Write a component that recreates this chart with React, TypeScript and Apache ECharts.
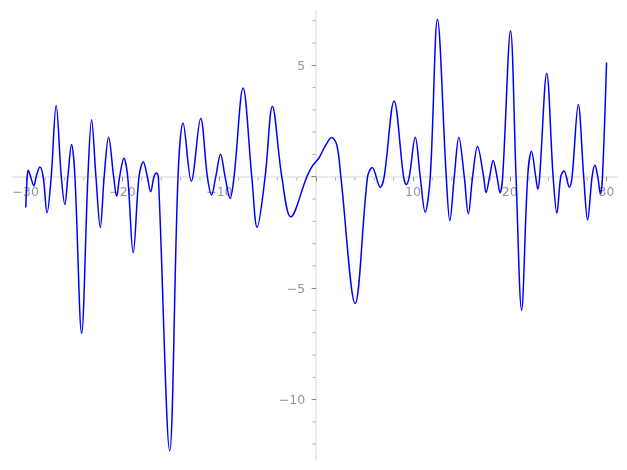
import React, { useEffect, useRef } from "react";
import * as echarts from "echarts";

// curve samples: [x, y]
const curveX: number[] = [
  -30.0, -29.85, -29.75, -29.5, -29.16, -28.92, -28.54, -28.2, -27.8, -27.37,
  -26.86, -26.33, -25.96, -25.65, -25.27, -24.92, -24.23, -23.58, -23.2, -22.75,
  -22.3, -21.9, -21.44, -20.92, -20.61, -20.3, -19.86, -19.47, -18.9, -18.3,
  -17.86, -17.44, -17.1, -16.75, -16.5, -16.3, -15.13, -14.27, -13.75, -12.9,
  -11.93, -11.24, -10.8, -10.37, -9.88, -9.41, -8.89, -8.48, -7.55, -6.65,
  -6.1, -5.27, -4.52, -3.55, -2.62, -0.96, -0.45, 0.3, 0.93, 1.6,
  2.14, 2.55, 4.03, 5.31, 5.79, 6.63, 7.03, 8.05, 9.03, 9.31,
  9.62, 10.24, 10.75, 11.26, 11.79, 12.53, 13.44, 13.81, 14.27, 14.74,
  15.3, 15.72, 16.16, 16.67, 17.3, 17.55, 17.92, 18.29, 18.68, 19.0,
  19.27, 20.08, 20.65, 21.22, 21.85, 22.25, 22.68, 22.9, 23.09, 23.82,
  24.48, 24.87, 25.27, 25.61, 26.16, 26.44, 27.08, 27.64, 28.04, 28.51,
  28.8, 29.09, 29.37, 29.58, 30.0,
];
const curveY: number[] = [
  -1.38, 0, 0.29, 0, -0.41, 0, 0.44, 0, -1.62, 0,
  3.19, 0, -1.25, 0, 1.44, 0, -7.03, 0, 2.55, 0,
  -2.28, 0, 1.77, 0, -0.88, 0, 0.83, 0, -3.41, 0,
  0.67, 0, -0.68, 0, 0.17, 0, -12.3, 0, 2.41, -0.2,
  2.61, 0, -0.82, 0, 1.01, 0, -0.98, 0, 3.98, 0,
  -2.27, 0, 3.16, 0, -1.8, 0, 0.44, 0.85, 1.37, 1.76,
  1.41, 0, -5.69, 0, 0.41, -0.47, 0, 3.4, 0, -0.35,
  0, 1.77, 0, -1.59, 0, 7.06, 0, -1.98, 0, 1.77,
  0, -1.67, 0, 1.36, 0, -0.72, 0, 0.73, 0, -0.72,
  0, 6.55, 0, -5.99, 0, 1.14, 0, -0.56, 0, 4.63,
  0, -1.63, 0, 0.26, -0.47, 0, 3.24, 0, -1.94, 0,
  0.51, 0, -0.77, 0, 5.12,
];

const xMajorTicks: number[] = [-30, -20, -10, 0, 10, 20, 30];
const xLabels: number[] = [-30, -20, -10, 10, 20, 30];
const xMinorTicks: number[] = [-28, -26, -24, -22, -18, -16, -14, -12, -8, -6, -4, -2, 2, 4, 6, 8, 12, 14, 16, 18, 22, 24, 26, 28];
const yMajorTicks: number[] = [-10, -5, 0, 5];
const yLabels: number[] = [-10, -5, 5];
const yMinorTicks: number[] = [-12, -11, -9, -8, -7, -6, -4, -3, -2, -1, 1, 2, 3, 4, 6, 7];

const X_MIN = -31.4;
const X_MAX = 31.1;
const Y_MIN = -12.68;
const Y_MAX = 7.48;

const fmt = (v: number) => (v < 0 ? "\u2212" + Math.abs(v) : String(v));

export default function App() {
  const ref = useRef<HTMLDivElement>(null);
  useEffect(() => {
    if (!ref.current) return;
    const chart = echarts.init(ref.current, undefined, { renderer: "svg" });
    const lineStyle = { color: "#e3e3e3", width: 1.5 };
    const labelStyle = {
      color: "#7a7a7a",
      fontFamily: "DejaVu Sans",
      fontSize: 12.5,
      textBorderWidth: 0,
      textShadowBlur: 0,
    };
    const data = curveX.map((x, i) => [x, curveY[i]]);
    chart.setOption({
      animation: false,
      grid: { left: 12.2, width: 605, top: 10, height: 449.3, outerBoundsMode: "none", containLabel: false },
      xAxis: {
        type: "value",
        min: X_MIN,
        max: X_MAX,
        axisLine: { show: true, onZero: true, lineStyle },
        axisTick: { show: true, length: 4.5, customValues: xMajorTicks, lineStyle: { color: "#888", width: 1 } },
        axisLabel: { show: false },
        splitLine: { show: false },
      },
      yAxis: {
        type: "value",
        min: Y_MIN,
        max: Y_MAX,
        axisLine: { show: true, onZero: true, lineStyle },
        axisTick: { show: true, length: 4.5, customValues: yMajorTicks, lineStyle: { color: "#888", width: 1 } },
        axisLabel: { show: false },
        splitLine: { show: false },
      },
      series: [
        {
          type: "line",
          data,
          showSymbol: false,
          smooth: 0.35,
          lineStyle: { color: "#0000ff", width: 1.5 },
          z: 5,
        },
        {
          type: "scatter",
          data: xMinorTicks.map((x) => [x, 0]),
          symbol: "rect",
          symbolSize: [1, 3],
          symbolOffset: [0, 2.2],
          color: "#999",
          itemStyle: { color: "#999" },
          silent: true,
          z: 3,
        },
        {
          type: "scatter",
          data: yMinorTicks.map((y) => [0, y]),
          symbol: "rect",
          symbolSize: [3, 1],
          symbolOffset: [-2.2, 0],
          color: "#999",
          itemStyle: { color: "#999" },
          silent: true,
          z: 3,
        },
        {
          type: "scatter",
          data: xLabels.map((x) => [x, 0]),
          symbol: "rect",
          symbolSize: 0.01,
          color: "#7a7a7a",
          itemStyle: { color: "rgba(0,0,0,0)" },
          silent: true,
          label: {
            show: true,
            position: "bottom",
            distance: 8,
            formatter: (p: any) => fmt(p.value[0]),
            ...labelStyle,
          },
          z: 4,
        },
        {
          type: "scatter",
          data: yLabels.map((y) => [0, y]),
          symbol: "rect",
          symbolSize: 0.01,
          color: "#7a7a7a",
          itemStyle: { color: "rgba(0,0,0,0)" },
          silent: true,
          label: {
            show: true,
            position: "left",
            distance: 11,
            formatter: (p: any) => fmt(p.value[1]),
            ...labelStyle,
          },
          z: 4,
        },
      ],
    });
    return () => chart.dispose();
  }, []);
  return (
    <div
      ref={ref}
      style={{
        position: "fixed",
        left: 0,
        top: 0,
        width: 627,
        height: 470,
        background: "#fff",
        willChange: "transform",
      }}
    />
  );
}
